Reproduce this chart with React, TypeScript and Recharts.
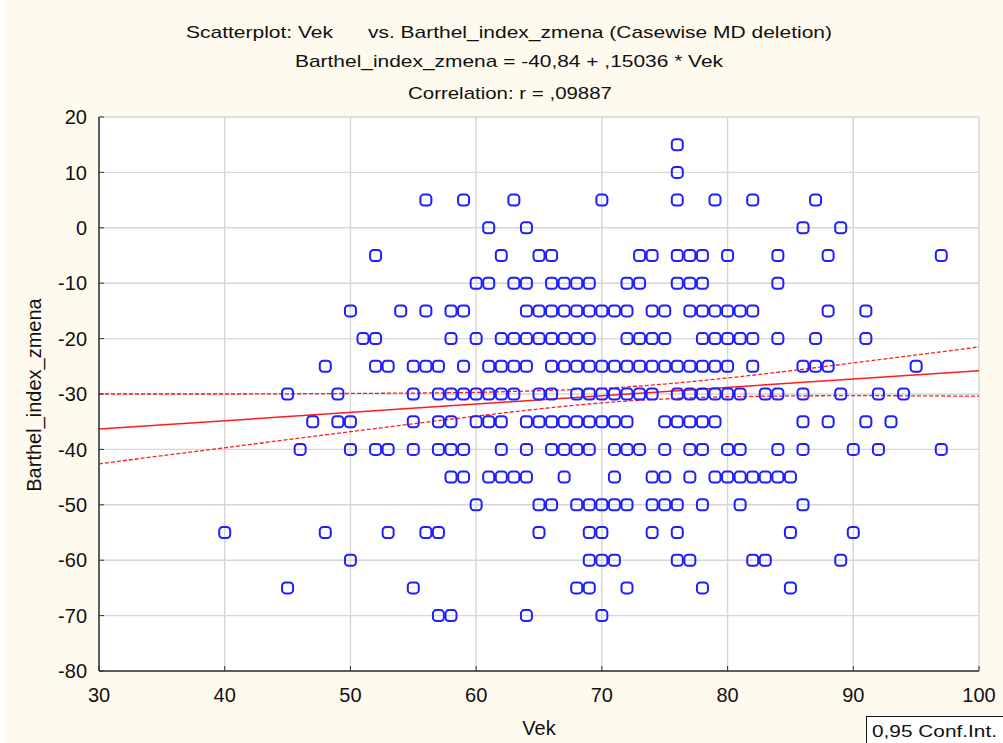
import { ComposedChart, Scatter, Line, XAxis, YAxis, CartesianGrid } from "recharts";

const xTicks = [30, 40, 50, 60, 70, 80, 90, 100];
const yTicks = [20, 10, 0, -10, -20, -30, -40, -50, -60, -70, -80];

// ages (Vek) observed at each Barthel_index_zmena level
const agesAt15 = [76];
const agesAt10 = [76];
const agesAt5 = [56, 59, 63, 70, 76, 79, 82, 87];
const agesAt0 = [61, 64, 86, 89];
const agesAtMinus5 = [52, 62, 65, 66, 73, 74, 76, 77, 78, 80, 84, 88, 97];
const agesAtMinus10 = [60, 61, 63, 64, 66, 67, 68, 69, 72, 73, 76, 77, 78, 84];
const agesAtMinus15 = [50, 54, 56, 58, 59, 64, 65, 66, 67, 68, 69, 70, 71, 72, 74, 75, 77, 78, 79, 80, 81, 82, 88, 91];
const agesAtMinus20 = [51, 52, 58, 60, 62, 63, 64, 65, 66, 67, 68, 69, 72, 73, 74, 75, 78, 79, 80, 81, 82, 84, 87, 91];
const agesAtMinus25 = [48, 52, 53, 55, 56, 57, 59, 61, 62, 63, 64, 66, 67, 68, 69, 70, 71, 72, 73, 74, 75, 76, 77, 78, 79, 80, 82, 86, 87, 88, 95];
const agesAtMinus30 = [45, 49, 55, 57, 58, 59, 60, 61, 62, 63, 65, 66, 68, 69, 70, 71, 72, 73, 74, 76, 77, 78, 79, 80, 81, 83, 84, 86, 89, 92, 94];
const agesAtMinus35 = [47, 49, 50, 55, 57, 58, 60, 61, 62, 64, 65, 66, 67, 68, 69, 70, 71, 72, 75, 76, 77, 78, 79, 86, 88, 91, 93];
const agesAtMinus40 = [46, 50, 52, 53, 55, 57, 58, 59, 62, 64, 66, 67, 68, 69, 71, 72, 73, 75, 77, 78, 80, 81, 84, 86, 90, 92, 97];
const agesAtMinus45 = [58, 59, 61, 62, 63, 64, 67, 71, 74, 75, 77, 79, 80, 81, 82, 83, 84, 85];
const agesAtMinus50 = [60, 65, 66, 68, 69, 70, 71, 72, 74, 75, 76, 78, 81, 86];
const agesAtMinus55 = [40, 48, 53, 56, 57, 65, 69, 70, 74, 76, 85, 90];
const agesAtMinus60 = [50, 69, 70, 71, 76, 77, 82, 83, 89];
const agesAtMinus65 = [45, 55, 68, 69, 72, 78, 85];
const agesAtMinus70 = [57, 58, 64, 70];

const levels = [15, 10, 5, 0, -5, -10, -15, -20, -25, -30, -35, -40, -45, -50, -55, -60, -65, -70];
const agesByLevel = [
  agesAt15, agesAt10, agesAt5, agesAt0, agesAtMinus5, agesAtMinus10, agesAtMinus15,
  agesAtMinus20, agesAtMinus25, agesAtMinus30, agesAtMinus35, agesAtMinus40,
  agesAtMinus45, agesAtMinus50, agesAtMinus55, agesAtMinus60, agesAtMinus65, agesAtMinus70,
];

// regression line and 0.95 confidence band
const fitAges = [30, 100];
const fitValues = [-36.33, -25.8];
const bandAges = [30, 40, 50, 60, 65, 70, 75, 80, 90, 100];
const upperBand = [-30.0, -30.0, -29.9, -29.7, -29.4, -29.0, -28.2, -27.1, -24.4, -21.5];
const lowerBand = [-42.6, -39.7, -36.8, -34.0, -32.7, -31.6, -30.9, -30.5, -30.3, -30.4];

const points = levels.flatMap((lvl, i) => agesByLevel[i].map((age) => ({ x: age, y: lvl })));
const fitData = fitAges.map((x, i) => ({ x, y: fitValues[i] }));
const upperData = bandAges.map((x, i) => ({ x, y: upperBand[i] }));
const lowerData = bandAges.map((x, i) => ({ x, y: lowerBand[i] }));

const FONT = '"Liberation Sans", Arial, sans-serif';
const FRAME = "#333333";
const RED = "#ff1c1c";

const Marker = (props: any) => {
  const { cx, cy } = props;
  if (cx == null || cy == null) return null;
  return (
    <rect
      x={cx - 5.5}
      y={cy - 5.5}
      width={11}
      height={11}
      rx={3.5}
      fill="none"
      stroke="#1e1eff"
      strokeWidth={2}
    />
  );
};

const tickStyle = { fontSize: 20, fill: "#111", fontFamily: FONT };

export default function App() {
  return (
    <div
      style={{
        position: "absolute",
        left: 0,
        top: 0,
        width: 1003,
        height: 743,
        background: "#fffaee",
        overflow: "hidden",
      }}
    >
      <ComposedChart
        width={1003}
        height={743}
        margin={{ top: 117, right: 24, bottom: 22, left: 39 }}
      >
        <CartesianGrid fill="#ffffff" stroke="#d6d6d6" strokeWidth={1.4} />
        <XAxis
          type="number"
          dataKey="x"
          domain={[30, 100]}
          ticks={xTicks}
          interval={0}
          allowDataOverflow
          height={50}
          tickSize={-5}
          tickMargin={22}
          axisLine={{ stroke: FRAME, strokeWidth: 1.5 }}
          tickLine={{ stroke: FRAME }}
          tick={tickStyle}
        />
        <XAxis
          xAxisId="top"
          orientation="top"
          type="number"
          domain={[30, 100]}
          ticks={xTicks}
          interval={0}
          allowDataOverflow
          height={0}
          tickSize={-5}
          axisLine={{ stroke: FRAME, strokeWidth: 1.5 }}
          tickLine={{ stroke: FRAME }}
          tick={false}
        />
        <YAxis
          type="number"
          dataKey="y"
          domain={[-80, 20]}
          ticks={yTicks}
          interval={0}
          allowDataOverflow
          width={60}
          tickSize={-5}
          tickMargin={17}
          axisLine={{ stroke: FRAME, strokeWidth: 1.5 }}
          tickLine={{ stroke: FRAME }}
          tick={tickStyle}
        />
        <YAxis
          yAxisId="right"
          orientation="right"
          type="number"
          domain={[-80, 20]}
          ticks={yTicks}
          interval={0}
          allowDataOverflow
          width={0}
          tickSize={-5}
          axisLine={{ stroke: FRAME, strokeWidth: 1.5 }}
          tickLine={{ stroke: FRAME }}
          tick={false}
        />
        <Scatter data={points} dataKey="y" shape={Marker} isAnimationActive={false} />
        <Line
          data={upperData}
          dataKey="y"
          type="monotone"
          stroke={RED}
          strokeWidth={1.3}
          strokeDasharray="4 2"
          dot={false}
          isAnimationActive={false}
        />
        <Line
          data={lowerData}
          dataKey="y"
          type="monotone"
          stroke={RED}
          strokeWidth={1.3}
          strokeDasharray="4 2"
          dot={false}
          isAnimationActive={false}
        />
        <Line
          data={fitData}
          dataKey="y"
          type="linear"
          stroke={RED}
          strokeWidth={1.5}
          dot={false}
          isAnimationActive={false}
        />
      </ComposedChart>
      <svg
        width={1003}
        height={743}
        style={{ position: "absolute", left: 0, top: 0, pointerEvents: "none" }}
        fontFamily={FONT}
        fill="#111"
      >
        <rect x={0} y={0} width={5} height={743} fill="#ffffff" />
        <text
          x={509}
          y={37.5}
          fontSize={17}
          textAnchor="middle"
          textLength={646}
          lengthAdjust="spacingAndGlyphs"
          style={{ whiteSpace: "pre" }}
        >
          {"Scatterplot: Vek      vs. Barthel_index_zmena (Casewise MD deletion)"}
        </text>
        <text x={509} y={67} fontSize={17} textAnchor="middle" textLength={428} lengthAdjust="spacingAndGlyphs">
          Barthel_index_zmena = -40,84 + ,15036 * Vek
        </text>
        <text x={510} y={98.5} fontSize={17} textAnchor="middle" textLength={204} lengthAdjust="spacingAndGlyphs">
          Correlation: r = ,09887
        </text>
        <text
          x={0}
          y={0}
          fontSize={20}
          textAnchor="middle"
          transform="translate(41 395) rotate(-90)"
        >
          Barthel_index_zmena
        </text>
        <text x={539} y={735} fontSize={20} textAnchor="middle">
          Vek
        </text>
        <rect x={866.5} y={716.5} width={140} height={30} fill="#ffffff" stroke="#111" strokeWidth={1} />
        <text x={872} y={737} fontSize={17} textLength={125} lengthAdjust="spacingAndGlyphs">
          0,95 Conf.Int.
        </text>
      </svg>
    </div>
  );
}
